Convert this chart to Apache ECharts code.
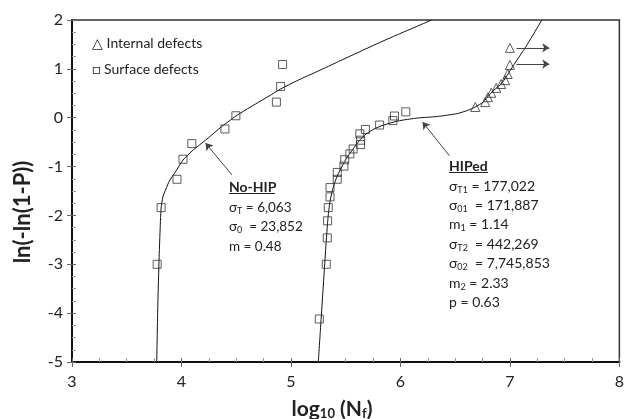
<!DOCTYPE html>
<html>
<head>
<meta charset="utf-8">
<script src="https://cdn.jsdelivr.net/npm/echarts@6/dist/echarts.min.js"></script>
<style>html,body{margin:0;padding:0;background:#fff}#c{width:627px;height:419px}</style>
</head>
<body>
<div id="c"></div>
<script>
// ---- data ----
const xTicks = [3, 4, 5, 6, 7, 8];
const yTicks = [-5, -4, -3, -2, -1, 0, 1, 2];

// No-HIP, surface defects
const noHipX = [3.778, 3.814, 3.959, 4.014, 4.095, 4.397, 4.497, 4.867, 4.906, 4.924];
const noHipY = [-3.00, -1.84, -1.26, -0.85, -0.53, -0.23, 0.04, 0.32, 0.64, 1.09];

// HIPed, surface defects
const hipX = [5.259, 5.323, 5.332, 5.335, 5.341, 5.357, 5.357, 5.423, 5.423, 5.484, 5.491,
              5.538, 5.568, 5.636, 5.636, 5.629, 5.680, 5.810, 5.931, 5.946, 6.049];
const hipY = [-4.12, -3.00, -2.46, -2.11, -1.84, -1.62, -1.43, -1.26, -1.12, -0.99, -0.86,
              -0.74, -0.64, -0.55, -0.46, -0.33, -0.24, -0.15, -0.06, 0.035, 0.12];

// HIPed, internal defects
const intX = [6.684, 6.775, 6.800, 6.830, 6.875, 6.920, 6.956, 6.980, 7.000, 7.000];
const intY = [0.22, 0.32, 0.42, 0.51, 0.61, 0.69, 0.77, 0.895, 1.08, 1.43];

// fitted curves
const noHipCurveX = [3.774, 3.783, 3.794, 3.803, 3.814, 3.830, 3.858, 3.889, 3.944, 4.014, 4.107, 4.222,
                     4.352, 4.497, 4.661, 4.824, 4.906, 5.069, 5.250, 5.432, 5.613, 5.795, 5.976, 6.158, 6.285];
const noHipCurveY = [-5.0, -3.935, -2.994, -2.40, -1.848, -1.623, -1.459, -1.296, -1.111, -0.866, -0.661, -0.456,
                     -0.210, 0.035, 0.26, 0.475, 0.588, 0.772, 0.956, 1.147, 1.335, 1.523, 1.703, 1.877, 2.0];
const hipCurveX = [5.250, 5.269, 5.287, 5.305, 5.323, 5.341, 5.359, 5.387, 5.423, 5.468, 5.514, 5.568, 5.622,
                   5.686, 5.759, 5.849, 5.976, 6.158, 6.339, 6.521, 6.612, 6.684, 6.757, 6.811, 6.866, 6.920,
                   6.966, 7.011, 7.065, 7.138, 7.211, 7.292];
const hipCurveY = [-5.0, -4.345, -3.731, -3.117, -2.503, -1.991, -1.684, -1.418, -1.193, -0.988, -0.804, -0.640, -0.476,
                   -0.333, -0.231, -0.149, -0.067, -0.006, 0.025, 0.086, 0.148, 0.219, 0.322, 0.465, 0.588, 0.690,
                   0.833, 0.997, 1.181, 1.427, 1.693, 2.0];

// annotation arrows [x1, y1, x2, y2]
const arrowNoHip = [4.461, -1.17, 4.22, -0.52];
const arrowHip = [6.448, -0.78, 6.203, -0.09];
const runOut1 = [7.06, 1.43, 7.36, 1.43];
const runOut2 = [7.06, 1.10, 7.36, 1.10];

// ---- chart ----
const zip = (a, b) => a.map((v, i) => [v, b[i]]);
const FONT = 'Lato, "Open Sans", sans-serif';
const INK = '#222';

const markerStyle = { color: 'rgba(0,0,0,0)', borderColor: '#333', borderWidth: 1 };
const arrow = (a) => [{ coord: [a[0], a[1]], symbol: 'none' }, { coord: [a[2], a[3]], symbol: 'arrow' }];

const baseAxis = (min, max, pos) => ({
  type: 'value', min: min, max: max, interval: 1, position: pos,
  axisLine: { show: true, onZero: false, lineStyle: { color: '#111', width: 2 } },
  axisTick: { show: true, inside: true, length: 4, lineStyle: { color: '#666' } },
  minorTick: { show: true, splitNumber: 4, length: 4, lineStyle: { color: '#999' } },
  splitLine: { show: false },
  axisLabel: { color: INK, fontFamily: FONT, fontSize: 16 }
});
const tickAxis = (min, max, pos) => ({
  type: 'value', min: min, max: max, interval: 1, position: pos,
  axisLine: { show: false, onZero: false },
  axisTick: { show: true, inside: false, length: 5, lineStyle: { color: '#666' } },
  axisLabel: { show: false }, splitLine: { show: false }
});

const chart = echarts.init(document.getElementById('c'), null, { renderer: 'canvas' });
chart.setOption({
  animation: false,
  backgroundColor: '#fff',
  grid: { left: 72, right: 4, top: 20, bottom: 57, show: true, borderColor: '#333', borderWidth: 1.5 },
  xAxis: [
    Object.assign(baseAxis(xTicks[0], xTicks[xTicks.length - 1], 'bottom'),
      { axisLabel: { color: INK, fontFamily: FONT, fontSize: 16, margin: 12 } }),
    tickAxis(xTicks[0], xTicks[xTicks.length - 1], 'bottom')
  ],
  yAxis: [
    Object.assign(baseAxis(yTicks[0], yTicks[yTicks.length - 1], 'left'),
      { axisLabel: { color: INK, fontFamily: FONT, fontSize: 16, margin: 9 } }),
    tickAxis(yTicks[0], yTicks[yTicks.length - 1], 'left')
  ],
  series: [
    { type: 'line', data: zip(noHipCurveX, noHipCurveY), smooth: 0.2, showSymbol: false,
      lineStyle: { color: '#111', width: 1 }, silent: true, z: 2,
      markLine: { silent: true, symbolSize: 7, label: { show: false },
        lineStyle: { color: '#444', width: 1, type: 'solid' },
        data: [arrow(arrowNoHip), arrow(arrowHip), arrow(runOut1), arrow(runOut2)] } },
    { type: 'line', data: zip(hipCurveX, hipCurveY), smooth: 0.2, showSymbol: false,
      lineStyle: { color: '#111', width: 1 }, silent: true, z: 2 },
    { type: 'scatter', data: zip(noHipX, noHipY), symbol: 'rect', symbolSize: 8, itemStyle: markerStyle, z: 3 },
    { type: 'scatter', data: zip(hipX, hipY), symbol: 'rect', symbolSize: 8, itemStyle: markerStyle, z: 3 },
    { type: 'scatter', data: zip(intX, intY), symbol: 'triangle', symbolSize: 9, itemStyle: markerStyle, z: 3 }
  ],
  graphic: [
    { type: 'text', x: 23, y: 212, rotation: Math.PI / 2,
      style: { text: 'ln(-ln(1-P))', fill: INK, font: 'bold 22px ' + FONT, align: 'center', verticalAlign: 'middle' } },
    { type: 'text', x: 332, y: 409,
      style: { text: '{b|log}{bs|10}{b| (N}{bs|f}{b|)}', align: 'center', verticalAlign: 'middle', fill: INK,
        rich: { b: { fontFamily: FONT, fontWeight: 'bold', fontSize: 21, lineHeight: 24 },
                bs: { fontFamily: FONT, fontWeight: 'bold', fontSize: 13, padding: [9, 0, 0, 0] } } } },
    { type: 'text', x: 92, y: 43,
      style: { text: '△ Internal defects', fill: INK, font: '14px ' + FONT, verticalAlign: 'middle' } },
    { type: 'text', x: 92, y: 69,
      style: { text: '□ Surface defects', fill: INK, font: '14px ' + FONT, verticalAlign: 'middle' } },
    { type: 'text', x: 229, y: 178,
      style: { text: '{h|No-HIP}\n{n|σ}{s|T}{n| = 6,063}\n{n|σ}{s|0}{n|  = 23,852}\n{n|m = 0.48}',
        fill: INK, verticalAlign: 'top',
        rich: { h: { fontFamily: FONT, fontWeight: 'bold', fontSize: 14, lineHeight: 19.5 },
                n: { fontFamily: FONT, fontSize: 13.5, lineHeight: 19.5 },
                s: { fontFamily: FONT, fontSize: 9, padding: [7, 0, 0, 0] } } } },
    { type: 'line', shape: { x1: 229, y1: 193.5, x2: 275, y2: 193.5 }, style: { stroke: INK, lineWidth: 1.2 } },
    { type: 'text', x: 449, y: 157,
      style: { text: '{h|HIPed}\n{n|σ}{s|T1}{n| = 177,022}\n{n|σ}{s|01}{n|  = 171,887}\n{n|m}{s|1}{n| = 1.14}\n{n|σ}{s|T2}{n|  = 442,269}\n{n|σ}{s|02}{n|  = 7,745,853}\n{n|m}{s|2}{n| = 2.33}\n{n|p = 0.63}',
        fill: INK, verticalAlign: 'top',
        rich: { h: { fontFamily: FONT, fontWeight: 'bold', fontSize: 14, lineHeight: 19.4 },
                n: { fontFamily: FONT, fontSize: 14, lineHeight: 19.4 },
                s: { fontFamily: FONT, fontSize: 9, padding: [7, 0, 0, 0] } } } },
    { type: 'line', shape: { x1: 449, y1: 172.5, x2: 488, y2: 172.5 }, style: { stroke: INK, lineWidth: 1.2 } }
  ]
});
</script>
</body>
</html>
